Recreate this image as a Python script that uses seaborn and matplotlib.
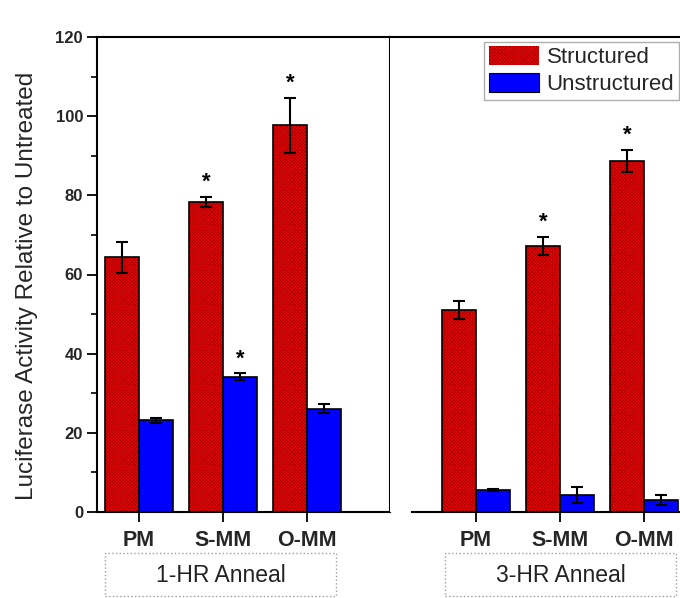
import numpy as np
import pandas as pd
import matplotlib
matplotlib.use("Agg")
import matplotlib.pyplot as plt
from matplotlib.patches import Patch, Rectangle
from matplotlib.ticker import MultipleLocator
import seaborn as sns

# ---------------- data ----------------
categories = ["PM", "S-MM", "O-MM"]
series_names = ["Structured", "Unstructured"]

struct_1hr = [64.3, 78.3, 97.7]
struct_1hr_err = [4.0, 1.3, 7.0]
unstruct_1hr = [23.2, 34.2, 26.1]
unstruct_1hr_err = [0.6, 0.8, 1.1]

struct_3hr = [51.0, 67.3, 88.7]
struct_3hr_err = [2.2, 2.3, 2.8]
unstruct_3hr = [5.6, 4.3, 3.0]
unstruct_3hr_err = [0.2, 1.9, 1.2]

# significance markers (True -> '*')
sig_struct_1hr = [False, True, True]
sig_unstruct_1hr = [False, True, False]
sig_struct_3hr = [False, True, True]
sig_unstruct_3hr = [False, False, False]

panel_titles = ["1-HR Anneal", "3-HR Anneal"]
y_ticks = [0, 20, 40, 60, 80, 100, 120]

# ---------------- style ----------------
sns.set_style("white")
plt.rcParams["font.family"] = ["Liberation Sans", "DejaVu Sans"]
plt.rcParams["hatch.linewidth"] = 0.5

RED = "#ff0000"
BLUE = "#0000ff"
HATCH_COL = "#a00000"
HATCH = "x" * 10

W, H = 680, 598
fig = plt.figure(figsize=(W / 100, H / 100), dpi=100)
fig.patch.set_facecolor("white")

ax1 = fig.add_axes([97 / W, 1 - 512 / H, 293 / W, 475 / H])
ax2 = fig.add_axes([390 / W, 1 - 512 / H, 290 / W, 475 / H], sharey=ax1)

panels = [
    (ax1, struct_1hr, struct_1hr_err, unstruct_1hr, unstruct_1hr_err, sig_struct_1hr, sig_unstruct_1hr),
    (ax2, struct_3hr, struct_3hr_err, unstruct_3hr, unstruct_3hr_err, sig_struct_3hr, sig_unstruct_3hr),
]

for ax, s, se, u, ue, ss, us in panels:
    df = pd.DataFrame({
        "Mismatch": categories * 2,
        "Type": [series_names[0]] * 3 + [series_names[1]] * 3,
        "Activity": list(s) + list(u),
    })
    sns.barplot(data=df, x="Mismatch", y="Activity", hue="Type",
                palette={series_names[0]: RED, series_names[1]: BLUE},
                width=0.81, errorbar=None, ax=ax, legend=False,
                edgecolor="black", linewidth=1.2, saturation=1, zorder=2)
    cont_s, cont_u = ax.containers[0], ax.containers[1]
    # hatch the structured bars, then re-outline them in black
    for bar in cont_s:
        bar.set_hatch(HATCH)
        bar.set_edgecolor(HATCH_COL)
        bar.set_linewidth(0)
        ax.add_patch(Rectangle((bar.get_x(), bar.get_y()), bar.get_width(), bar.get_height(),
                               fill=False, edgecolor="black", linewidth=1.2, zorder=3))
    for cont, vals, errs, sig in [(cont_s, s, se, ss), (cont_u, u, ue, us)]:
        for bar, v, e, g in zip(cont, vals, errs, sig):
            x = bar.get_x() + bar.get_width() / 2
            ax.errorbar(x, v, yerr=e, fmt="none", ecolor="black", elinewidth=1.5,
                        capsize=4, capthick=1.5, zorder=4)
            if g:
                ax.text(x, v + e + 1.0, "*", ha="center", va="bottom",
                        fontsize=16, fontweight="bold", color="black", zorder=5)
    ax.set_xlabel("")
    ax.set_ylabel("")
    ax.set_facecolor("white")

# ---------------- axes formatting ----------------
ax1.set_ylim(0, 120)
ax1.set_yticks(y_ticks)
ax1.yaxis.set_minor_locator(MultipleLocator(10))
ax1.set_xlim(-0.5, 2.988)
ax2.set_xlim(-1.024, 2.43)

for ax in (ax1, ax2):
    for sp in ax.spines.values():
        sp.set_color("black")
        sp.set_linewidth(1.5)
    ax.tick_params(axis="x", which="major", direction="out", length=7, width=1.3,
                   bottom=True, labelsize=15.5, pad=6, color="black")
    for lab in ax.get_xticklabels():
        lab.set_fontweight("bold")

ax1.tick_params(axis="y", which="major", direction="out", length=7, width=1.3,
                left=True, labelsize=12, pad=3, color="black")
ax1.tick_params(axis="y", which="minor", direction="out", length=4, width=1.2,
                left=True, color="black")
for lab in ax1.get_yticklabels():
    lab.set_fontweight("bold")

ax2.spines["left"].set_visible(False)
ax2.spines["right"].set_visible(False)
ax2.spines["bottom"].set_bounds(-0.76, 2.43)
ax2.tick_params(axis="y", which="both", left=False, labelleft=False)

ax1.set_ylabel("Luciferase Activity Relative to Untreated", fontsize=17.5)
ax1.yaxis.set_label_coords(-0.2, 0.477)

# ---------------- legend ----------------
handles = [Patch(facecolor=RED, edgecolor=HATCH_COL, hatch=HATCH, linewidth=0),
           Patch(facecolor=BLUE, edgecolor="black", linewidth=0.8)]
leg = ax2.legend(handles, series_names, loc="upper right", bbox_to_anchor=(0.995, 0.99),
                 borderaxespad=0, fontsize=16, frameon=True, fancybox=False,
                 handlelength=2.25, handleheight=0.95, handletextpad=0.35,
                 labelspacing=0.2, borderpad=0.2)
leg.get_frame().set_edgecolor("#9a9a9a")
leg.get_frame().set_linewidth(1.0)

# ---------------- group boxes ----------------
for (x0, x1), title in zip([(105, 336), (445, 676)], panel_titles):
    fig.add_artist(Rectangle((x0 / W, 1 - 596 / H), (x1 - x0) / W, 43 / H,
                             transform=fig.transFigure, fill=False,
                             edgecolor="#a0a0a0", linestyle=":", linewidth=1.0))
    fig.text((x0 + x1) / 2 / W, 1 - 575 / H, title, ha="center", va="center",
             fontsize=16.5, color="#222222")

fig.savefig("out.png", dpi=100, facecolor="white")
